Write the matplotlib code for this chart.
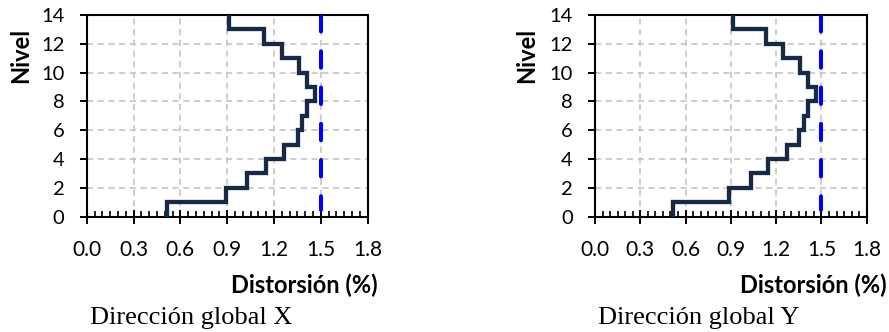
import matplotlib
matplotlib.use("Agg")
import matplotlib.pyplot as plt
from matplotlib.ticker import MultipleLocator

# story drift per level (%), levels 1..14
niveles = list(range(0, 15))
drift_x = [0.513, 0.893, 1.03, 1.147, 1.267, 1.352, 1.382, 1.414, 1.461,
           1.408, 1.357, 1.25, 1.137, 0.91]
drift_y = [0.515, 0.888, 1.034, 1.148, 1.27, 1.352, 1.387, 1.413, 1.462,
           1.409, 1.358, 1.248, 1.133, 0.912]
limite = 1.5
titulos = ["Dirección global X", "Dirección global Y"]

fig = plt.figure(figsize=(8.89, 3.32), dpi=100)
# axes boxes in pixels: left, bottom, width, height
boxes = [(86.7, 332 - 216.7, 281, 201.7), (595, 332 - 216.7, 271.7, 201.7)]
# positions of the text pieces in axes fraction
xlab_right = [1.037, 1.074]
nivel_x = [-0.235, -0.25]
titulo_x = [0.371, 0.381]

for k, (box, drift, titulo) in enumerate(zip(boxes, [drift_x, drift_y], titulos)):
    ax = fig.add_axes([box[0] / 889, box[1] / 332, box[2] / 889, box[3] / 332])
    # build the step profile
    xs, ys = [], []
    for i, d in enumerate(drift):
        xs += [d, d]
        ys += [niveles[i], niveles[i + 1]]
    ax.plot(xs, ys, color="#172a45", lw=3.1, solid_joinstyle="miter",
            solid_capstyle="projecting", zorder=3)
    ax.plot([limite, limite], [14, 0.45], color="#0000ff", lw=2.9,
            dashes=(4.1, 4.9), dash_capstyle="round", zorder=3)

    ax.set_xlim(0, 1.8)
    ax.set_ylim(0, 14)
    ax.xaxis.set_major_locator(MultipleLocator(0.3))
    ax.xaxis.set_minor_locator(MultipleLocator(0.05))
    ax.yaxis.set_major_locator(MultipleLocator(2))
    ax.grid(True, which="major", color="#c0c0c0", ls=(0, (4, 3)), lw=1.1)
    ax.tick_params(axis="x", which="major", direction="inout", length=10,
                   width=1.4, labelsize=15, pad=12)
    ax.tick_params(axis="x", which="minor", direction="in", length=4.5, width=1.2)
    ax.tick_params(axis="y", which="major", direction="out", length=5,
                   width=1.4, labelsize=14.5, pad=11)
    ax.set_xticklabels(["%.1f" % v for v in ax.get_xticks()], family="Lato")
    ax.set_yticklabels(["%d" % v for v in ax.get_yticks()], family="Lato")
    for s in ax.spines.values():
        s.set_linewidth(1.5)
    ax.text(nivel_x[k], 0.80, "Nivel", transform=ax.transAxes, rotation=90,
            ha="center", va="center", fontsize=17, fontweight="bold",
            family="Lato")
    ax.text(xlab_right[k], -0.34, "Distorsión (%)", transform=ax.transAxes,
            ha="right", va="center", fontsize=17, fontweight="bold",
            family="Lato")
    ax.text(titulo_x[k], -0.5, titulo, transform=ax.transAxes, ha="center",
            va="center", fontsize=19, family="Liberation Serif")

fig.savefig("out.png", dpi=100)
